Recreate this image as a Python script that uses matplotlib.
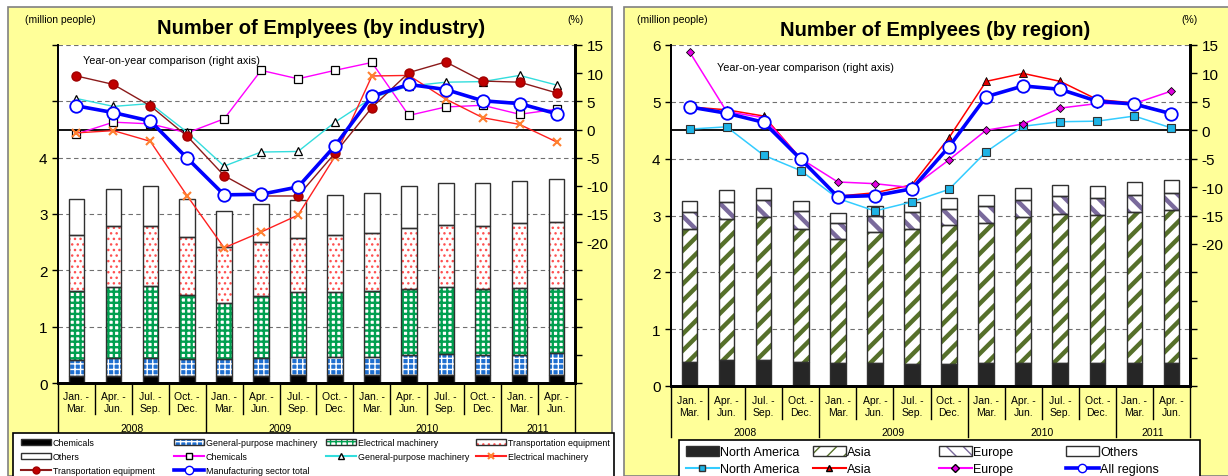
import numpy as np
import matplotlib
matplotlib.use('Agg')
import matplotlib.pyplot as plt
from matplotlib.patches import Patch, Rectangle
from matplotlib.lines import Line2D

plt.rcParams['font.family'] = ['Liberation Sans', 'DejaVu Sans']
plt.rcParams['axes.unicode_minus'] = False

# categories
quarters = ['Jan. -\nMar.', 'Apr. -\nJun.', 'Jul. -\nSep.', 'Oct. -\nDec.'] * 3 + ['Jan. -\nMar.', 'Apr. -\nJun.']
years = ['2008', '2009', '2010', '2011']
year_len = [4, 4, 4, 2]

# by industry, million people (stack segments)
ind_chem = [0.12, 0.12, 0.12, 0.12, 0.12, 0.13, 0.14, 0.14, 0.14, 0.14, 0.14, 0.14, 0.14, 0.14]
ind_gp = [0.29, 0.32, 0.32, 0.31, 0.31, 0.31, 0.33, 0.33, 0.33, 0.35, 0.37, 0.36, 0.36, 0.39]
ind_elec = [1.22, 1.26, 1.28, 1.14, 0.99, 1.11, 1.15, 1.15, 1.16, 1.18, 1.19, 1.17, 1.19, 1.16]
ind_trans = [1.00, 1.08, 1.07, 1.02, 0.99, 0.96, 0.95, 1.01, 1.04, 1.08, 1.11, 1.12, 1.15, 1.16]
ind_other = [0.63, 0.66, 0.70, 0.68, 0.65, 0.67, 0.67, 0.70, 0.71, 0.74, 0.74, 0.76, 0.75, 0.78]

# by industry, year-on-year %
chem_yoy = [-0.8, 1.3, 1.0, -0.6, 1.9, 10.5, 9.0, 10.5, 11.9, 2.5, 4.0, 4.3, 2.7, 3.6]
gp_yoy = [5.5, 4.1, 4.6, -0.5, -6.5, -4.0, -3.9, 1.3, 5.6, 7.7, 8.4, 8.5, 9.6, 7.9]
elec_yoy = [-0.6, -0.2, -2.1, -11.8, -21.0, -18.2, -15.2, -4.8, 9.5, 9.6, 5.4, 2.1, 0.9, -2.2]
trans_yoy = [9.5, 8.0, 4.2, -1.2, -8.2, -11.8, -11.8, -4.2, 3.9, 10.1, 12.0, 8.6, 8.4, 6.5]
mfg_yoy = [4.2, 3.0, 1.5, -5.1, -11.6, -11.5, -10.2, -2.9, 5.9, 8.0, 7.1, 5.1, 4.6, 2.8]

# by region, million people (stack segments)
reg_na = [0.43, 0.45, 0.45, 0.43, 0.40, 0.40, 0.38, 0.38, 0.40, 0.40, 0.40, 0.40, 0.40, 0.40]
reg_asia = [2.34, 2.48, 2.52, 2.34, 2.19, 2.31, 2.39, 2.45, 2.47, 2.57, 2.63, 2.61, 2.66, 2.70]
reg_eu = [0.29, 0.31, 0.31, 0.31, 0.27, 0.28, 0.30, 0.28, 0.30, 0.31, 0.31, 0.30, 0.30, 0.30]
reg_other = [0.20, 0.20, 0.21, 0.18, 0.18, 0.17, 0.17, 0.19, 0.19, 0.21, 0.20, 0.21, 0.23, 0.23]

# by region, year-on-year %
na_yoy = [0.2, 0.6, -4.4, -7.1, -12.0, -14.2, -12.6, -10.4, -3.8, 0.7, 1.5, 1.6, 2.5, 0.4]
asia_yoy = [4.1, 3.6, 2.5, -5.0, -11.6, -11.0, -9.6, -1.3, 8.6, 10.0, 8.6, 5.4, 4.8, 2.9]
eu_yoy = [13.8, 3.3, 2.2, -5.0, -9.1, -9.4, -10.1, -5.2, 0.0, 1.1, 3.9, 4.7, 4.7, 6.9]
all_yoy = [4.1, 3.0, 1.4, -5.1, -11.7, -11.5, -10.3, -2.9, 5.9, 7.8, 7.2, 5.1, 4.6, 2.9]

W, H = 1228, 477
YEL = '#FFFF99'


def box(x0, y0, x1, y1):
    # pixel box -> figure fraction
    return [x0 / W, 1 - y1 / H, (x1 - x0) / W, (y1 - y0) / H]


def hbar(ax, x, h, bottom, fc, hc, hatch, hlw=1.0):
    bars = ax.bar(x, h, 0.42, bottom=bottom, color=fc, edgecolor=hc, hatch=hatch, linewidth=0, zorder=2)
    for b in bars:
        try:
            b.set_hatch_linewidth(hlw)
        except AttributeError:
            pass
    ax.bar(x, h, 0.42, bottom=bottom, fill=False, edgecolor='#303030', linewidth=1.0, zorder=3)


def hpatch(fc, hc, hatch, hlw=1.0):
    p = Patch(facecolor=fc, edgecolor=hc, hatch=hatch, linewidth=0)
    try:
        p.set_hatch_linewidth(hlw)
    except AttributeError:
        pass
    return (p, Patch(fill=False, edgecolor='#303030', linewidth=1.0))


def setup(ax, ax2, hgt, left_labels, qy, qlen, yy, ylen):
    n = len(quarters)
    ax.set_xlim(-0.5, n - 0.5)
    ax.set_ylim(0, 6)
    ax2.set_ylim(-45, 15)
    ax.set_xticks([])
    ax.set_yticks(range(7))
    ax.set_yticklabels(left_labels)
    ax2.set_yticks(range(-45, 16, 5))
    ax2.set_yticklabels([str(v) if v >= -20 else '' for v in range(-45, 16, 5)])
    ax.tick_params(axis='y', labelsize=11, length=4, width=1)
    ax2.tick_params(axis='y', labelsize=11, length=5, width=1)
    for v in range(1, 7):
        ax.axhline(v, color='#707070', ls=(0, (4, 3)), lw=0.8, zorder=1)
    ax2.axhline(0, color='black', lw=1.3, zorder=1)
    for a in (ax, ax2):
        a.spines['top'].set_visible(False)
        a.spines['left'].set_linewidth(1.3)
        a.spines['right'].set_linewidth(2.0)
        a.spines['bottom'].set_linewidth(2.0)
    tr = ax.get_xaxis_transform()
    for i, q in enumerate(quarters):
        ax.text(i, -qy / hgt, q, transform=tr, ha='center', va='center', fontsize=7.5, linespacing=1.15)
    bounds = np.cumsum([0] + year_len) - 0.5
    for i in range(n + 1):
        ln = ylen if (i - 0.5) in bounds else qlen
        ax.plot([i - 0.5, i - 0.5], [0, -ln / hgt], transform=tr, color='black', lw=1.0, clip_on=False)
    for k, y in enumerate(years):
        ax.text((bounds[k] + bounds[k + 1]) / 2, -yy / hgt, y, transform=tr, ha='center', va='center', fontsize=7.5)


def legend_cols(cols, xs, ytop, fs, hl, ls):
    # one frameless legend per column so that columns sit where the reference has them
    for (hs, ls_), xp in zip(cols, xs):
        fig.legend(hs, ls_, loc='upper left', bbox_to_anchor=(xp / W, 1 - ytop / H), frameon=False,
                   fontsize=fs, handlelength=hl, handleheight=0.8, handletextpad=0.15,
                   labelspacing=ls, borderpad=0, borderaxespad=0)


fig = plt.figure(figsize=(W / 100, H / 100), dpi=100)
fig.patches.append(Rectangle((8 / W, 0), 604 / W, 1 - 8 / H, transform=fig.transFigure,
                             facecolor=YEL, edgecolor='#808080', lw=1.2, zorder=-5))
fig.patches.append(Rectangle((624 / W, 0), 610 / W, 1 - 8 / H, transform=fig.transFigure,
                             facecolor=YEL, edgecolor='#808080', lw=1.2, zorder=-5))

x = np.arange(len(quarters))

# ---------- left: by industry ----------
ax = fig.add_axes(box(58, 46, 575, 384))
ax2 = ax.twinx()
setup(ax, ax2, 338, ['0', '1', '2', '3', '4', '', ''], 19, 31, 45, 49)

b = np.zeros(len(x))
hbar(ax, x, ind_chem, b, 'black', 'black', None)
b += ind_chem
hbar(ax, x, ind_gp, b, '#1F6FD0', 'white', '+++', 1.0)
b += ind_gp
hbar(ax, x, ind_elec, b, 'white', '#00A050', '+++', 1.7)
b += ind_elec
hbar(ax, x, ind_trans, b, 'white', '#FF5050', '...', 1.0)
b += ind_trans
hbar(ax, x, ind_other, b, 'white', 'white', None)

ax2.plot(x, chem_yoy, color='#FF00FF', lw=1, marker='s', ms=5.5, mfc='white', mec='black', mew=0.9, zorder=4)
ax2.plot(x, gp_yoy, color='#33DDDD', lw=1, marker='^', ms=5.5, mfc='white', mec='black', mew=0.9, zorder=4)
ax2.plot(x, elec_yoy, color='#FF2020', lw=1, marker='x', ms=6, mec='#FF8030', mew=1.5, zorder=4)
ax2.plot(x, trans_yoy, color='#8B1A1A', lw=1, marker='o', ms=6.5, mfc='#C00000', mec='#A00000', zorder=4)
ax2.plot(x, mfg_yoy, color='#0000FF', lw=2.6, marker='o', ms=9, mfc='white', mec='#0000FF', mew=1.3, zorder=5)

fig.text(25 / W, 1 - 20 / H, '(million people)', fontsize=7.5, va='center')
fig.text(567 / W, 1 - 20 / H, '(%)', fontsize=7.5, va='center')
fig.text(321 / W, 1 - 28 / H, 'Number of Emplyees (by industry)', fontsize=14.5, fontweight='bold', ha='center', va='center')
fig.text(83 / W, 1 - 61 / H, 'Year-on-year comparison (right axis)', fontsize=7.8, va='center')

fig.patches.append(Rectangle((13 / W, -0.05), 601 / W, 1.05 - 434 / H, transform=fig.transFigure,
                             facecolor='white', edgecolor='black', lw=1.2, zorder=1))
left_cols = [
    ([hpatch('black', 'black', None), hpatch('white', 'white', None),
      Line2D([], [], color='#8B1A1A', marker='o', ms=5, mfc='#C00000', mec='#A00000')],
     ['Chemicals', 'Others', 'Transportation equipment']),
    ([hpatch('#1F6FD0', 'white', '+++', 1.0),
      Line2D([], [], color='#FF00FF', marker='s', ms=5, mfc='white', mec='black'),
      Line2D([], [], color='#0000FF', lw=2.6, marker='o', ms=6, mfc='white', mec='#0000FF')],
     ['General-purpose machinery', 'Chemicals', 'Manufacturing sector total']),
    ([hpatch('white', '#00A050', '+++', 1.7),
      Line2D([], [], color='#33DDDD', marker='^', ms=5, mfc='white', mec='black')],
     ['Electrical machinery', 'General-purpose machinery']),
    ([hpatch('white', '#FF5050', '...'),
      Line2D([], [], color='#FF2020', marker='x', ms=5, mec='#FF8030', mew=1.5)],
     ['Transportation equipment', 'Electrical machinery']),
]
legend_cols(left_cols, [21, 174, 326, 476], 439, 6.4, 3.4, 0.58)

# ---------- right: by region ----------
bx = fig.add_axes(box(671, 46, 1190, 387))
bx2 = bx.twinx()
setup(bx, bx2, 341, [str(v) for v in range(7)], 20, 33, 46, 51)

b = np.zeros(len(x))
hbar(bx, x, reg_na, b, '#262626', '#262626', None)
b += reg_na
hbar(bx, x, reg_asia, b, 'white', '#56702A', '//', 3.2)
b += reg_asia
hbar(bx, x, reg_eu, b, 'white', '#7A6A9C', '\\\\', 3.2)
b += reg_eu
hbar(bx, x, reg_other, b, 'white', 'white', None)

bx2.plot(x, na_yoy, color='#33CCFF', lw=1.1, marker='s', ms=6, mfc='#1EB4E6', mec='#303030', mew=0.8, zorder=4)
bx2.plot(x, asia_yoy, color='#FF0000', lw=1.1, marker='^', ms=5.5, mfc='#E00000', mec='black', mew=0.6, zorder=4)
bx2.plot(x, eu_yoy, color='#FF00FF', lw=1.1, marker='D', ms=4.5, mfc='#E000E0', mec='black', mew=0.6, zorder=4)
bx2.plot(x, all_yoy, color='#0000FF', lw=2.6, marker='o', ms=9, mfc='white', mec='#0000FF', mew=1.3, zorder=5)

fig.text(637 / W, 1 - 20 / H, '(million people)', fontsize=7.5, va='center')
fig.text(1181 / W, 1 - 20 / H, '(%)', fontsize=7.5, va='center')
fig.text(935 / W, 1 - 30 / H, 'Number of Emplyees (by region)', fontsize=14.5, fontweight='bold', ha='center', va='center')
fig.text(717 / W, 1 - 68 / H, 'Year-on-year comparison (right axis)', fontsize=7.8, va='center')

fig.patches.append(Rectangle((679 / W, -0.05), 521 / W, 1.05 - 441 / H, transform=fig.transFigure,
                             facecolor='white', edgecolor='black', lw=1.2, zorder=1))
right_cols = [
    ([hpatch('#262626', '#262626', None),
      Line2D([], [], color='#33CCFF', marker='s', ms=5, mfc='#1EB4E6', mec='#303030')],
     ['North America', 'North America']),
    ([hpatch('white', '#56702A', '//', 3.2),
      Line2D([], [], color='#FF0000', marker='^', ms=5, mfc='#E00000', mec='black')],
     ['Asia', 'Asia']),
    ([hpatch('white', '#7A6A9C', '\\\\', 3.2),
      Line2D([], [], color='#FF00FF', marker='D', ms=4, mfc='#E000E0', mec='black')],
     ['Europe', 'Europe']),
    ([hpatch('white', 'white', None),
      Line2D([], [], color='#0000FF', lw=2.6, marker='o', ms=6, mfc='white', mec='#0000FF')],
     ['Others', 'All regions']),
]
legend_cols(right_cols, [686, 813, 939, 1066], 447, 9, 2.6, 0.42)

fig.savefig('out.png', dpi=100)
